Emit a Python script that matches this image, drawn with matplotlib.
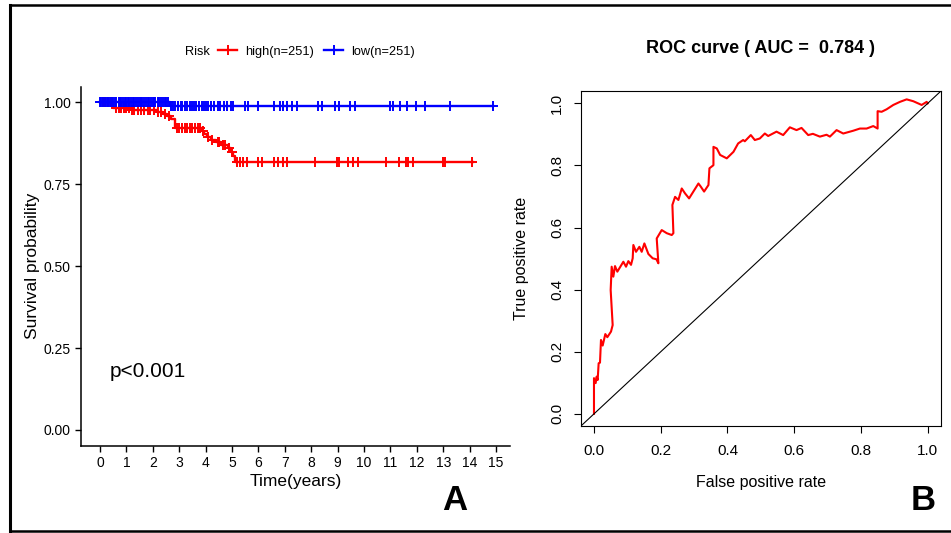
import numpy as np
import matplotlib
matplotlib.use("Agg")
import matplotlib.pyplot as plt
from matplotlib.lines import Line2D

plt.rcParams['font.family'] = ['Liberation Sans', 'DejaVu Sans']

# Kaplan-Meier data (time in years, survival probability)
high_t = [0, 0.5, 1.2, 2.15, 2.4, 2.55, 2.7, 2.84, 3.85, 3.95, 4.05, 4.2, 4.4, 4.6, 4.85, 4.97, 5.05, 5.11]
high_s = [1.0, 0.983, 0.978, 0.971, 0.965, 0.958, 0.95, 0.921, 0.912, 0.905, 0.896, 0.886, 0.878, 0.87,
          0.86, 0.85, 0.835, 0.818]
high_end = 14.13
high_cens = [0.1, 0.2, 0.3, 0.42, 0.6, 0.7, 0.8, 0.9, 1.0, 1.1, 1.2, 1.3, 1.45, 1.55, 1.65, 1.8, 1.9,
             2.05, 2.2, 2.3, 2.45, 2.6, 2.9, 3.0, 3.1, 3.2, 3.3, 3.4, 3.5, 3.6, 3.7, 3.8, 3.9, 4.1,
             4.25, 4.45, 4.5, 4.65, 4.75, 4.9, 5.0,
             5.17, 5.3, 5.42, 5.55, 6.0, 6.12, 6.59, 6.74, 6.92, 7.07, 8.14, 8.99, 9.05, 9.4, 9.6,
             9.78, 10.82, 11.34, 11.6, 11.65, 11.87, 12.98, 13.07, 14.1]

low_t = [0, 2.65]
low_s = [1.0, 0.988]
low_end = 14.87
low_cens = [0.0, 0.05, 0.12, 0.2, 0.25, 0.3, 0.38, 0.45, 0.5, 0.55, 0.62, 0.7, 0.75, 0.8, 0.88, 0.95,
            1.0, 1.05, 1.1, 1.18, 1.25, 1.3, 1.35, 1.42, 1.5, 1.55, 1.6, 1.68, 1.75, 1.8, 1.85, 1.92,
            2.0, 2.05, 2.1, 2.18, 2.25, 2.3, 2.38, 2.45, 2.5, 2.58,
            2.7, 2.78, 2.85, 2.95, 3.05, 3.12, 3.2, 3.3, 3.4, 3.48, 3.55, 3.65, 3.75, 3.85, 3.92,
            4.0, 4.1, 4.2, 4.3, 4.45, 4.55, 4.7, 4.8, 4.95, 5.05,
            5.5, 5.6, 6.0, 6.6, 6.8, 6.93, 7.08, 7.27, 7.46, 8.27, 8.4, 8.9, 9.05, 9.47, 9.66,
            10.98, 11.1, 11.36, 11.63, 11.97, 12.3, 13.26, 14.87]

# ROC curve points
fpr = [0.0, 0.0, 0.005, 0.008, 0.011, 0.014, 0.018, 0.021, 0.026, 0.034, 0.04, 0.051, 0.056, 0.05,
       0.053, 0.058, 0.063, 0.07, 0.088, 0.096, 0.103, 0.111, 0.116, 0.118, 0.126, 0.136, 0.143,
       0.151, 0.163, 0.176, 0.187, 0.193, 0.188, 0.203, 0.218, 0.233, 0.238, 0.235, 0.243, 0.253,
       0.263, 0.273, 0.285, 0.313, 0.32, 0.33, 0.343, 0.346, 0.358, 0.358, 0.368, 0.378, 0.398,
       0.418, 0.432, 0.447, 0.452, 0.47, 0.482, 0.497, 0.512, 0.522, 0.547, 0.567, 0.587, 0.607,
       0.622, 0.642, 0.656, 0.677, 0.697, 0.707, 0.727, 0.747, 0.777, 0.797, 0.817, 0.837, 0.85,
       0.85, 0.862, 0.877, 0.897, 0.917, 0.937, 0.957, 0.982, 0.997, 1.0]
tpr = [0.0, 0.115, 0.099, 0.12, 0.109, 0.163, 0.165, 0.238, 0.22, 0.257, 0.247, 0.265, 0.286, 0.399,
       0.474, 0.442, 0.476, 0.458, 0.49, 0.474, 0.492, 0.48, 0.501, 0.544, 0.522, 0.538, 0.522,
       0.549, 0.515, 0.501, 0.498, 0.485, 0.565, 0.592, 0.582, 0.576, 0.582, 0.673, 0.699, 0.689,
       0.726, 0.71, 0.694, 0.742, 0.732, 0.716, 0.737, 0.791, 0.801, 0.86, 0.855, 0.834, 0.823,
       0.844, 0.871, 0.882, 0.878, 0.898, 0.882, 0.887, 0.903, 0.895, 0.909, 0.898, 0.923, 0.914,
       0.921, 0.898, 0.902, 0.893, 0.899, 0.893, 0.914, 0.903, 0.912, 0.919, 0.919, 0.927, 0.919,
       0.975, 0.973, 0.981, 0.995, 1.005, 1.013, 1.007, 0.995, 1.005, 1.0]
auc = 0.784


def surv_at(t, s, times):
    idx = np.searchsorted(t, times, side='right') - 1
    return np.array(s)[idx]


fig = plt.figure(figsize=(9.51, 5.33), dpi=100)

# outer frame
fig.add_artist(Line2D([0.0105, 0.0105], [0.003, 0.9897], color='black', lw=2.2))
fig.add_artist(Line2D([0.0105, 1.0], [0.9897, 0.9897], color='black', lw=1.8))
fig.add_artist(Line2D([0.0105, 1.0], [0.003, 0.003], color='black', lw=1.8))

# ---- panel A: Kaplan-Meier ----
ax = fig.add_axes([0.0852, 0.1632, 0.4511, 0.6741])
for t, s, end, cens, col, lab in [(high_t, high_s, high_end, high_cens, '#FF0000', 'high(n=251)'),
                                  (low_t, low_s, low_end, low_cens, '#0000FF', 'low(n=251)')]:
    ax.step(t + [end], s + [s[-1]], where='post', color=col, lw=1.7, label=lab)
    ax.plot(cens, surv_at(t, s, cens), ls='none', marker='+', color=col, ms=7, mew=1.4)

ax.set_xlim(-0.72, 15.53)
ax.set_ylim(-0.049, 1.048)
ax.set_xticks(range(16))
ax.set_yticks([0, 0.25, 0.5, 0.75, 1.0])
ax.set_yticklabels(['0.00', '0.25', '0.50', '0.75', '1.00'])
ax.tick_params(labelsize=10, length=4, width=1, colors='black')
for side in ['top', 'right']:
    ax.spines[side].set_visible(False)
for side in ['left', 'bottom']:
    ax.spines[side].set_linewidth(1.1)
ax.set_xlabel('Time(years)', fontsize=12.5, va='center')
ax.xaxis.set_label_coords(0.5, -0.098)
ax.set_ylabel('Survival probability', fontsize=12.5, va='center')
ax.yaxis.set_label_coords(-0.114, 0.5)
ax.text(0.35, 0.18, 'p<0.001', fontsize=15, ha='left', va='center')

handles = [Line2D([], [], color='#FF0000', lw=1.7, marker='+', ms=7, mew=1.4),
           Line2D([], [], color='#0000FF', lw=1.7, marker='+', ms=7, mew=1.4)]
fig.legend(handles, ['high(n=251)', 'low(n=251)'], loc='center left',
           bbox_to_anchor=(218 / 951, 1 - 51.7 / 533), ncol=2, frameon=False, fontsize=9.2,
           handlelength=1.5, handletextpad=0.6, columnspacing=0.8, borderpad=0, borderaxespad=0)
fig.text(197 / 951, 1 - 51.7 / 533, 'Risk', fontsize=9.2, ha='center', va='center')
fig.text(455 / 951, 1 - 500 / 533, 'A', fontsize=25, fontweight='bold', ha='center', va='center')

# ---- panel B: ROC ----
bx = fig.add_axes([0.6109, 0.2008, 0.3786, 0.6285])
bx.plot(fpr, tpr, color='#FF0000', lw=1.5)
bx.axline((0, 0), (1, 1), color='black', lw=0.8)
bx.set_xlim(-0.039, 1.04)
bx.set_ylim(-0.039, 1.04)
bx.set_xticks([0, 0.2, 0.4, 0.6, 0.8, 1.0])
bx.set_yticks([0, 0.2, 0.4, 0.6, 0.8, 1.0])
bx.set_xticklabels(['0.0', '0.2', '0.4', '0.6', '0.8', '1.0'])
bx.set_yticklabels(['0.0', '0.2', '0.4', '0.6', '0.8', '1.0'], rotation=90, va='center')
bx.tick_params(labelsize=11, length=5, width=0.8, colors='black')
bx.tick_params(axis='x', pad=8)
bx.tick_params(axis='y', pad=7)
for sp in bx.spines.values():
    sp.set_linewidth(0.8)
bx.set_title('ROC curve ( AUC =  %.3f )' % auc, fontsize=13, fontweight='bold', pad=27)
bx.set_xlabel('False positive rate', fontsize=11.5, va='center')
bx.xaxis.set_label_coords(0.5, -57 / 335)
bx.set_ylabel('True positive rate', fontsize=11.5, va='center')
bx.yaxis.set_label_coords(-59 / 360, 0.5)
fig.text(923 / 951, 1 - 500 / 533, 'B', fontsize=25, fontweight='bold', ha='center', va='center')

fig.savefig('out.png', dpi=100)
